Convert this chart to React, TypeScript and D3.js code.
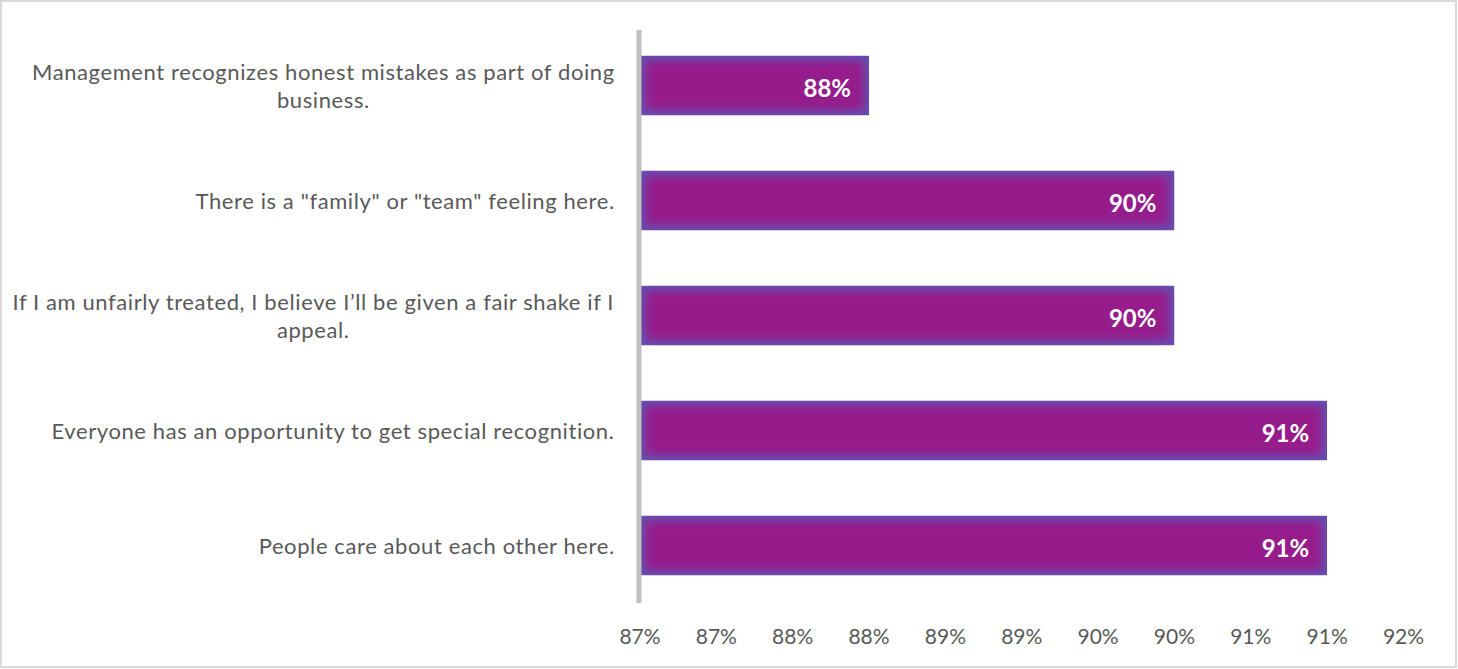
import React, { useMemo } from "react";
import * as d3 from "d3";

const categories = [
  "Management recognizes honest mistakes as part of doing business.",
  "There is a \"family\" or \"team\" feeling here.",
  "If I am unfairly treated, I believe I\u2019ll be given a fair shake if I appeal.",
  "Everyone has an opportunity to get special recognition.",
  "People care about each other here.",
];
const values = [88, 90, 90, 91, 91];
const valueLabels = ["88%", "90%", "90%", "91%", "91%"];
const tickValues = [86.5, 87, 87.5, 88, 88.5, 89, 89.5, 90, 90.5, 91, 91.5];
const tickLabels = ["87%", "87%", "88%", "88%", "89%", "89%", "90%", "90%", "91%", "91%", "92%"];

const W = 1458;
const H = 669;
const FONT = "Lato, 'Open Sans', sans-serif";
const CAT_SIZE = 22;
const CAT_SPACING = 0.6;
const LABEL_RIGHT = 615;
const WRAP_WIDTH = 612;

function measurer() {
  const c = document.createElement("canvas");
  const ctx = c.getContext("2d")!;
  ctx.font = `${CAT_SIZE}px Lato`;
  return (s: string) => ctx.measureText(s).width + s.length * CAT_SPACING;
}

function wrap(text: string, maxW: number, m: (s: string) => number) {
  const words = text.split(" ");
  const lines: string[] = [];
  let cur = "";
  for (const w of words) {
    const t = cur ? cur + " " + w : w;
    if (m(t) > maxW && cur) {
      lines.push(cur);
      cur = w;
    } else cur = t;
  }
  if (cur) lines.push(cur);
  return lines;
}

export default function App() {
  const x = d3.scaleLinear().domain([86.5, 91.5]).range([640, 1403.5]);
  const y = d3
    .scaleBand<string>()
    .domain(categories)
    .range([28, 603])
    .paddingInner(0.48)
    .paddingOuter(0.24);

  const wrapped = useMemo(() => {
    const m = measurer();
    return categories.map((c) => {
      const lines = wrap(c, WRAP_WIDTH, m);
      const maxW = Math.max(...lines.map(m));
      return { lines, center: LABEL_RIGHT - maxW / 2 };
    });
  }, []);

  const lineH = 28;

  return (
    <div style={{ position: "fixed", left: 0, top: 0, width: W, height: H, background: "#fff" }}>
      <svg width={W} height={H} style={{ display: "block" }}>
        <defs>
          <filter id="soft" x="-20%" y="-50%" width="140%" height="200%">
            <feGaussianBlur stdDeviation="4" />
          </filter>
          {categories.map((c, i) => (
            <clipPath id={`clip${i}`} key={i}>
              <rect
                x={x(86.5)}
                y={y(c)!}
                width={x(values[i]) - x(86.5)}
                height={y.bandwidth()}
              />
            </clipPath>
          ))}
        </defs>
        <rect x={1} y={1} width={W - 3} height={H - 3} fill="#fff" stroke="#d9d9d9" strokeWidth={2} />

        {categories.map((c, i) => {
          const x0 = x(86.5);
          const x1 = x(values[i]);
          const y0 = y(c)!;
          const bh = y.bandwidth();
          return (
            <g key={c}>
              <g clipPath={`url(#clip${i})`}>
                <rect x={x0} y={y0} width={x1 - x0} height={bh} fill="#6252b2" />
                <rect
                  x={x0 + 5}
                  y={y0 + 5}
                  width={x1 - x0 - 10}
                  height={bh - 10}
                  fill="#961e8c"
                  filter="url(#soft)"
                />
              </g>
              <text
                x={x1 - 18}
                y={y0 + bh / 2 + 2}
                textAnchor="end"
                dominantBaseline="central"
                fill="#fff"
                fontFamily={FONT}
                fontWeight={700}
                fontSize={24}
              >
                {valueLabels[i]}
              </text>
            </g>
          );
        })}

        <line x1={639} x2={639} y1={30} y2={603} stroke="#bfbfbf" strokeWidth={5} />

        {categories.map((c, i) => {
          const { lines, center } = wrapped[i];
          const cy = y(c)! + y.bandwidth() / 2;
          const startY = cy - ((lines.length - 1) * lineH) / 2;
          return (
            <g key={"l" + i}>
              {lines.map((ln, j) => (
                <text
                  key={j}
                  x={center}
                  y={startY + j * lineH}
                  textAnchor="middle"
                  dominantBaseline="central"
                  fill="#595959"
                  fontFamily={FONT}
                  fontSize={CAT_SIZE}
                  letterSpacing={CAT_SPACING}
                >
                  {ln}
                </text>
              ))}
            </g>
          );
        })}

        {tickValues.map((t, i) => (
          <text
            key={i}
            x={x(t)}
            y={635}
            textAnchor="middle"
            dominantBaseline="central"
            fill="#595959"
            fontFamily={FONT}
            fontSize={21}
          >
            {tickLabels[i]}
          </text>
        ))}
      </svg>
    </div>
  );
}
